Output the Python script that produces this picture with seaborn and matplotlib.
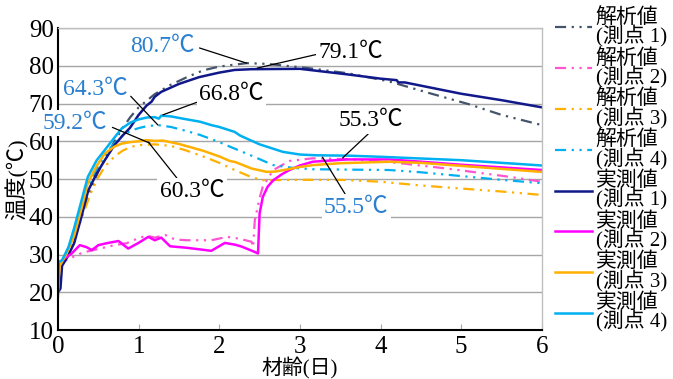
import seaborn as sns
import pandas as pd
import matplotlib.pyplot as plt

# 材齢(日) and 温度(℃)
day_a1 = [0, 0.1, 0.2, 0.3, 0.4, 0.5, 0.6, 0.7, 0.8, 0.9, 1.0, 1.2, 1.4, 1.6, 1.8, 2.0, 2.34, 2.6, 3.1, 3.6, 4.1, 4.6, 5.1, 5.5, 6.0]
temp_a1 = [27, 29, 34, 41, 47, 52, 56, 60, 63.5, 66.5, 69, 72.5, 75, 77, 78.8, 79.8, 80.7, 80.5, 79.4, 78, 75.9, 72.8, 69.8, 67, 64.3]

day_a2 = [0, 0.1, 0.2, 0.3, 0.5, 0.7, 0.85, 0.99, 1.1, 1.2, 1.33, 1.45, 1.6, 1.9, 2.1, 2.25, 2.4, 2.42, 2.44, 2.5, 2.54, 2.67, 2.87, 3.16, 3.7, 4.2, 4.82, 5.6, 6.0]
temp_a2 = [27, 28.5, 29.5, 30.5, 31.5, 32.5, 33, 34.3, 35, 34.5, 35.2, 34, 33.8, 33.8, 34.7, 34.2, 33.4, 32, 39, 45, 48, 52.4, 54.8, 55.5, 55.2, 54.3, 52.8, 50.6, 49.3]

day_a3 = [0, 0.1, 0.2, 0.3, 0.4, 0.5, 0.58, 0.7, 0.8, 0.9, 1.0, 1.2, 1.4, 1.6, 1.8, 2.0, 2.19, 2.4, 2.54, 3.0, 3.5, 4.0, 4.5, 5.0, 5.5, 6.0]
temp_a3 = [27, 29, 34, 40, 46, 50.5, 53.3, 56, 57.5, 58.5, 59, 59.2, 58.8, 57.5, 56, 54.3, 52.4, 50.5, 49.7, 49.8, 49.8, 49.3, 48.3, 47.5, 46.7, 45.8]

day_a4 = [0, 0.1, 0.2, 0.3, 0.4, 0.5, 0.58, 0.7, 0.8, 0.9, 1.0, 1.1, 1.24, 1.4, 1.6, 1.76, 2.0, 2.13, 2.4, 2.67, 2.9, 3.16, 4.11, 4.5, 5.0, 5.5, 6.0]
temp_a4 = [27, 30, 36, 43, 49, 53.5, 56.4, 59.5, 61.5, 62.8, 63.5, 64, 64.3, 63.8, 62.7, 61.7, 59.8, 58.6, 56.2, 53.7, 53, 52.6, 52.4, 51.8, 50.8, 49.8, 48.9]

day_m1 = [0, 0.03, 0.05, 0.12, 0.2, 0.29, 0.375, 0.48, 0.58, 0.7, 0.8, 0.89, 1.0, 1.1, 1.16, 1.2, 1.28, 1.5, 1.75, 2.0, 2.19, 2.4, 3.0, 3.6, 4.0, 4.2, 4.22, 4.3, 5.0, 5.5, 6.0]
temp_m1 = [20, 21, 27, 29.5, 33, 40, 47, 51.5, 55, 59, 61.5, 63.5, 67, 69.5, 70.5, 71.8, 73.1, 75.2, 77, 78.2, 78.9, 79.1, 79.2, 77.7, 76.6, 76.2, 75.6, 75.6, 72.6, 70.9, 69]

day_m2 = [0, 0.05, 0.17, 0.27, 0.35, 0.42, 0.5, 0.6, 0.75, 0.87, 0.99, 1.12, 1.2, 1.28, 1.39, 1.6, 1.9, 2.07, 2.2, 2.28, 2.44, 2.48, 2.5, 2.54, 2.6, 2.67, 2.77, 2.87, 3.0, 3.16, 3.58, 4.11, 4.5, 5.0, 5.5, 6.0]
temp_m2 = [27.7, 28.5, 30.3, 32.5, 32, 31.2, 32.5, 33, 33.6, 31.6, 33, 34.7, 33.8, 34.5, 32.2, 31.8, 31, 33.1, 32.6, 32.1, 30.7, 30.3, 40.9, 45.3, 48, 49.7, 51.2, 52.4, 53.6, 54.6, 55.2, 55.2, 54.6, 53.8, 53.1, 52.4]

day_m3 = [0, 0.02, 0.1, 0.2, 0.3, 0.37, 0.48, 0.58, 0.7, 0.79, 0.9, 1.0, 1.1, 1.2, 1.3, 1.5, 1.8, 2.0, 2.13, 2.2, 2.4, 2.59, 2.7, 3.0, 3.16, 3.5, 4.11, 4.5, 5.0, 6.0]
temp_m3 = [21, 27, 30, 35, 43, 49, 53.5, 56.8, 58.6, 59.4, 59.8, 60, 60.3, 60.1, 60.2, 59.3, 57.5, 56, 54.8, 54.5, 52.8, 51.9, 52, 53.2, 53.7, 54.2, 54.6, 54.3, 53.5, 51.9]

day_m4 = [0, 0.01, 0.05, 0.13, 0.2, 0.3, 0.37, 0.48, 0.58, 0.7, 0.79, 0.9, 1.0, 1.1, 1.2, 1.25, 1.28, 1.4, 1.6, 1.76, 1.9, 2.0, 2.19, 2.26, 2.5, 2.79, 3.0, 3.2, 3.6, 4.0, 5.0, 6.0]
temp_m4 = [19, 28, 28.5, 32, 37, 45, 50.6, 55, 57.7, 61, 63.4, 65, 65.8, 66.3, 66.4, 66, 66.8, 66.6, 65.8, 65.2, 64.3, 63.8, 62.5, 61.5, 59.2, 57.2, 56.5, 56.3, 56.2, 55.9, 55, 53.6]

labels = ["解析値\n(測点 1)", "解析値\n(測点 2)", "解析値\n(測点 3)", "解析値\n(測点 4)",
          "実測値\n(測点 1)", "実測値\n(測点 2)", "実測値\n(測点 3)", "実測値\n(測点 4)"]
colors = ["#44546a", "#ff55d0", "#ffb000", "#00b0f0",
          "#10188a", "#ff00ff", "#ffb000", "#00b0f0"]

series = [(day_a1, temp_a1), (day_a2, temp_a2), (day_a3, temp_a3), (day_a4, temp_a4),
          (day_m1, temp_m1), (day_m2, temp_m2), (day_m3, temp_m3), (day_m4, temp_m4)]

# annotations: text, point, text position, line start on text box, colour
notes = [
    ("80.7℃", (2.34, 80.7), (1.29, 85.0), (1.08, 0.45), "#2a7fd0"),
    ("79.1℃", (2.47, 79.4), (3.63, 83.6), (-0.02, 0.4), "black"),
    ("64.3℃", (1.24, 64.3), (0.46, 73.6), (1.05, 0.2), "#2a7fd0"),
    ("66.8℃", (1.30, 67.0), (2.15, 72.5), (0.0, 0.15), "black"),
    ("59.2℃", (1.14, 59.5), (0.21, 64.8), (1.08, 0.3), "#2a7fd0"),
    ("60.3℃", (1.12, 59.8), (1.66, 46.8), (0.3, 1.0), "black"),
    ("55.3℃", (3.53, 55.6), (3.88, 65.4), (0.5, 0.0), "black"),
    ("55.5℃", (3.28, 55.8), (3.70, 42.6), (0.35, 1.0), "#2a7fd0"),
]

# one font list for everything: serif latin, CJK falls through to Noto
serif = ['Liberation Serif', 'Noto Sans CJK JP']
plt.rcParams['font.family'] = serif

fig = plt.figure(figsize=(6.73, 3.79), dpi=100)
ax = fig.add_axes([0.0862, 0.129, 0.7189, 0.797])

for i, ((d, t), lab, c) in enumerate(zip(series, labels, colors)):
    df = pd.DataFrame({'day': d, 'temp': t})
    sns.lineplot(data=df, x='day', y='temp', ax=ax, color=c, label=lab,
                 sort=False, estimator=None, lw=1.6 if i < 4 else 1.8)
    if i < 4:
        ax.lines[-1].set_dashes((5, 2.5, 1, 2.5, 1, 2.5))

for txt, xy, xyt, rp, c in notes:
    ax.annotate(txt, xy=xy, xytext=xyt, ha='center', va='center', fontsize=17, color=c,
                family=serif,
                bbox=dict(boxstyle='square,pad=0.1', fc='white', ec='none'),
                arrowprops=dict(arrowstyle='-', color='black', lw=0.9,
                                shrinkA=0, shrinkB=0, relpos=rp))

ax.set_xlim(0, 6)
ax.set_ylim(10, 90)
ax.set_xticks(range(0, 7))
ax.set_yticks(range(10, 91, 10))
ax.yaxis.grid(True, color='#a6a6a6', lw=1)
ax.set_axisbelow(True)
ax.tick_params(axis='x', direction='in', length=4, color='#a6a6a6', labelsize=18, pad=4)
ax.tick_params(axis='y', length=0, labelsize=18, pad=3)
for s in ['left', 'bottom']:
    ax.spines[s].set_color('black')
    ax.spines[s].set_linewidth(1.5)
for s in ['top', 'right']:
    ax.spines[s].set_color('#bfbfbf')
    ax.spines[s].set_linewidth(1)

ax.set_xlabel("材齢(日)", fontsize=15, family=serif, labelpad=-1)
ax.set_ylabel("温度(℃)", fontsize=16, family=serif, labelpad=0)

leg = ax.legend(loc='upper left', bbox_to_anchor=(0.825, 0.98), bbox_transform=fig.transFigure,
                frameon=False, prop={'family': serif, 'size': 15}, handlelength=1.75,
                handletextpad=0.2, labelspacing=0.05, borderpad=0, borderaxespad=0)
for t in leg.get_texts():
    t.set_linespacing(0.88)

plt.savefig('out.png', dpi=100)
